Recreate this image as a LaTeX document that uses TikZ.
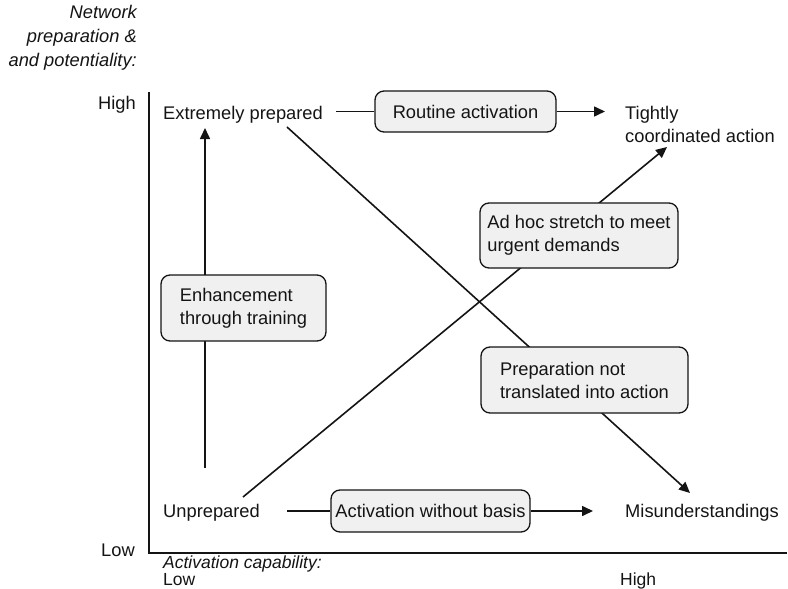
\documentclass[tikz,border=0pt]{standalone}
\usepackage{fontspec}
\setmainfont{Liberation Sans}
\usetikzlibrary{arrows.meta}
\pgfdeclarelayer{bg}
\pgfsetlayers{bg,main}
\definecolor{boxgray}{RGB}{240,240,240}
\definecolor{ink}{RGB}{20,20,20}
\begin{document}
\begin{tikzpicture}[x=1pt,y=-1pt,
  every node/.style={font=\fontsize{18.3}{23}\selectfont, inner sep=0pt, text=ink},
  lbl/.style={},
  ital/.style={font=\fontsize{18.3}{24}\selectfont\itshape},
  small/.style={font=\fontsize{17.5}{20}\selectfont},
  box/.style={draw=ink, rounded corners=9pt, fill=boxgray, line width=1.3pt, align=left},
  conn/.style={draw=ink, line width=1.6pt},
  arr/.style={conn, -{Triangle[length=11pt,width=10pt]}},
  axis/.style={draw=ink, line width=1.6pt},
]
\useasboundingbox (0,0) rectangle (788,589);

% axis titles and ticks
\node[ital, align=right, anchor=east] (ytitle) at (137,38) {Network\\preparation \&\\and potentiality:};
\node[lbl, anchor=base east] (yhigh) at (136,109) {High};
\node[lbl, anchor=base east] (ylow) at (135,556) {Low};
\node[small, anchor=base west] (xtitle) at (163,568) {\itshape Activation capability:};
\node[small, anchor=base west] (xlow) at (163,585) {Low};
\node[small, anchor=base west] (xhigh) at (620,585) {High};

% axes
\coordinate (origin) at (149,553);
\coordinate (ytop) at (149,92);
\coordinate (xend) at (787,553);
\draw[axis] (ytop) -- (origin) -- (xend);

% states
\node[lbl, anchor=base west] (ep) at (163,119) {Extremely prepared};
\node[lbl, align=left, anchor=west] (tc) at (625,124) {Tightly\\coordinated action};
\node[lbl, anchor=base west] (up) at (163,517) {Unprepared};
\node[lbl, anchor=base west] (mis) at (625,517) {Misunderstandings};

% process boxes
\node[box, minimum width=181pt, minimum height=41pt] (ra) at (465.5,111.5) {Routine activation};
\node[box, minimum width=165pt, minimum height=66pt] (enh) at (243.5,308) {Enhancement\\through training};
\node[box, minimum width=198pt, minimum height=65pt] (adhoc) at (579,235.5) {Ad hoc stretch to meet\\urgent demands};
\node[box, minimum width=207pt, minimum height=66pt] (prep) at (584.5,380) {Preparation not\\translated into action};
\node[box, minimum width=199pt, minimum height=42pt] (awb) at (430.5,511) {Activation without basis};

% connector end points
\coordinate (vbot) at (205,468);
\coordinate (vtop) at (205,128);
\coordinate (d1s) at (287,127);
\coordinate (d1e) at (690,493);
\coordinate (d2s) at (243,497);
\coordinate (d2e) at (667,147);

\begin{pgfonlayer}{bg}
  \draw[conn] ([xshift=13pt]ep.east |- ra.west) -- (ra.west);
  \draw[arr] (ra.east) -- ([xshift=-20pt]ra.east -| tc.west);
  \draw[arr] (vbot) -- (vtop);
  \draw[arr] (d1s) -- (d1e);
  \draw[arr] (d2s) -- (d2e);
  \draw[conn] ([xshift=27pt]up.east |- awb.west) -- (awb.west);
  \draw[arr] (awb.east) -- ([xshift=-32pt]awb.east -| mis.west);
\end{pgfonlayer}
\end{tikzpicture}
\end{document}
